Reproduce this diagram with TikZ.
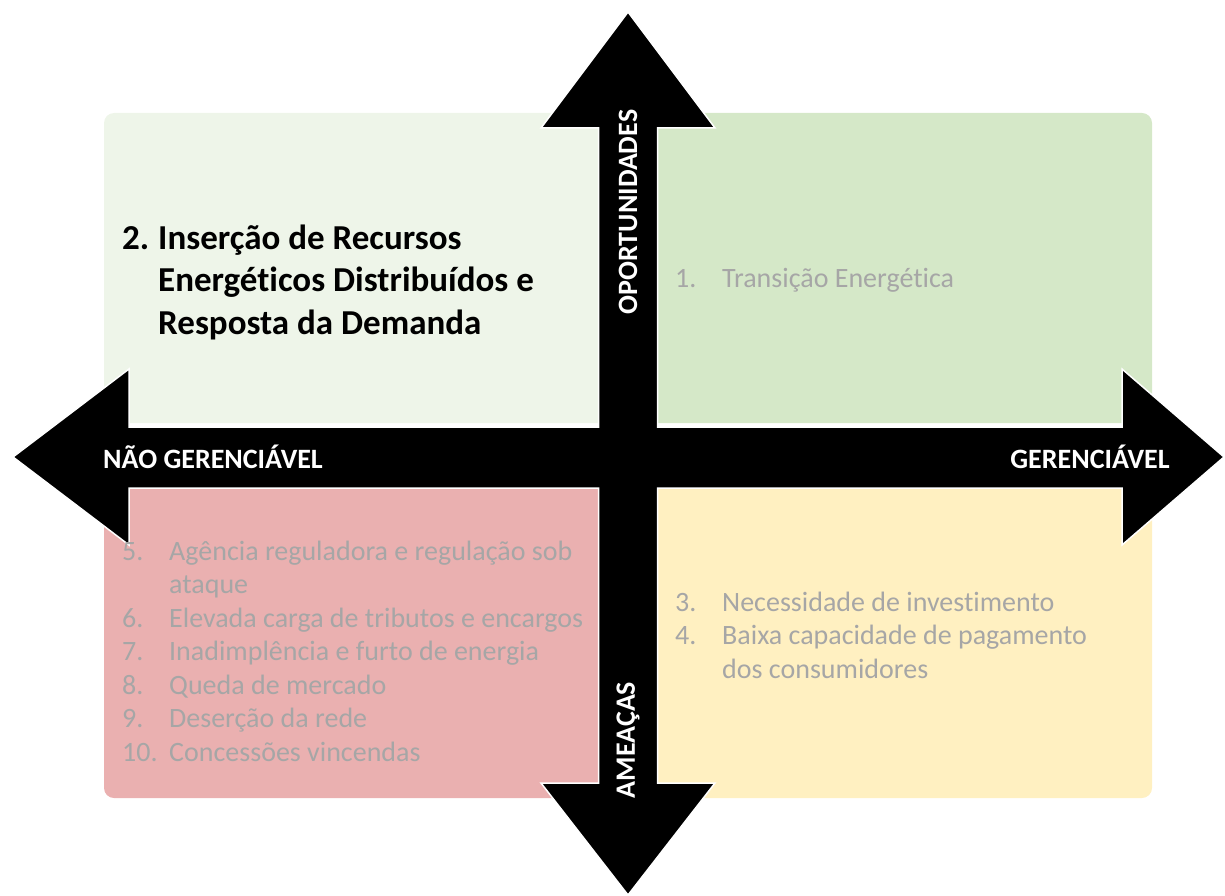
\documentclass[tikz,border=0pt]{standalone}
\usepackage{fontspec}
\setmainfont{Carlito}[Ligatures=NoCommon]
\definecolor{qTL}{RGB}{238,245,233}
\definecolor{qTR}{RGB}{213,232,200}
\definecolor{qBL}{RGB}{234,176,176}
\definecolor{qBR}{RGB}{255,240,193}
\definecolor{itemgray}{RGB}{166,166,166}
\tikzset{
  quad/.style={rounded corners=10pt, draw=none},
  bigarrow/.style={fill=black, draw=white, line width=1.5pt},
  axislabel/.style={text=white, inner sep=0, font=\bfseries\fontsize{28}{32}\selectfont},
  itemlist/.style={text=itemgray, inner sep=0, anchor=base west, font=\fontsize{28}{33.5}\selectfont},
  keyitem/.style={text=black, inner sep=0, anchor=base west, font=\bfseries\fontsize{35}{42.5}\selectfont}
}
\begin{document}
\begin{tikzpicture}[x=1pt,y=-1pt]
\useasboundingbox (0,0) rectangle (1225,896);
% quadrants
\fill[quad, qTL] (104,113) rectangle (620,423);
\fill[quad, qTR] (640,113) rectangle (1152,423);
\fill[quad, qBL] (104,489) rectangle (620,798);
\fill[quad, qBR] (640,489) rectangle (1152,798);
% cross of double arrows
\draw[bigarrow] (628,12) -- (715,128) -- (657.5,128) -- (657.5,427) -- (1122,427) -- (1122,369)
  -- (1224,457) -- (1122,545) -- (1122,488) -- (657.5,488) -- (657.5,783) -- (715,783)
  -- (628,895) -- (541,783) -- (598.5,783) -- (598.5,488) -- (129,488) -- (129,545)
  -- (13,457) -- (129,369) -- (129,427) -- (598.5,427) -- (598.5,128) -- (541,128) -- cycle;
% axis labels
\node[axislabel] (nger) at (213,457) {NÃO GERENCIÁVEL};
\node[axislabel] (ger) at (1090,457) {GERENCIÁVEL};
\node[axislabel, rotate=90] (opo) at (628,212) {OPORTUNIDADES};
\node[axislabel, rotate=90] (ame) at (628,740) {AMEAÇAS};
% texts
\node[keyitem] (tl) at (122,249) {\begin{tabular}[t]{@{}l@{}l@{}}\makebox[36pt][l]{2.}&Inserção de Recursos\\&Energéticos Distribuídos e\\&Resposta da Demanda\end{tabular}};
\node[itemlist] (tr) at (675,287) {\begin{tabular}[t]{@{}l@{}l@{}}\makebox[47pt][l]{1.}&Transição Energética\end{tabular}};
\node[itemlist] (bl) at (122,560) {\begin{tabular}[t]{@{}l@{}l@{}}\makebox[47pt][l]{5.}&Agência reguladora e regulação sob\\&ataque\\6.&Elevada carga de tributos e encargos\\7.&Inadimplência e furto de energia\\8.&Queda de mercado\\9.&Deserção da rede\\10.&Concessões vincendas\end{tabular}};
\node[itemlist] (br) at (675,611) {\begin{tabular}[t]{@{}l@{}l@{}}\makebox[47pt][l]{3.}&Necessidade de investimento\\4.&Baixa capacidade de pagamento\\&dos consumidores\end{tabular}};
\end{tikzpicture}
\end{document}
